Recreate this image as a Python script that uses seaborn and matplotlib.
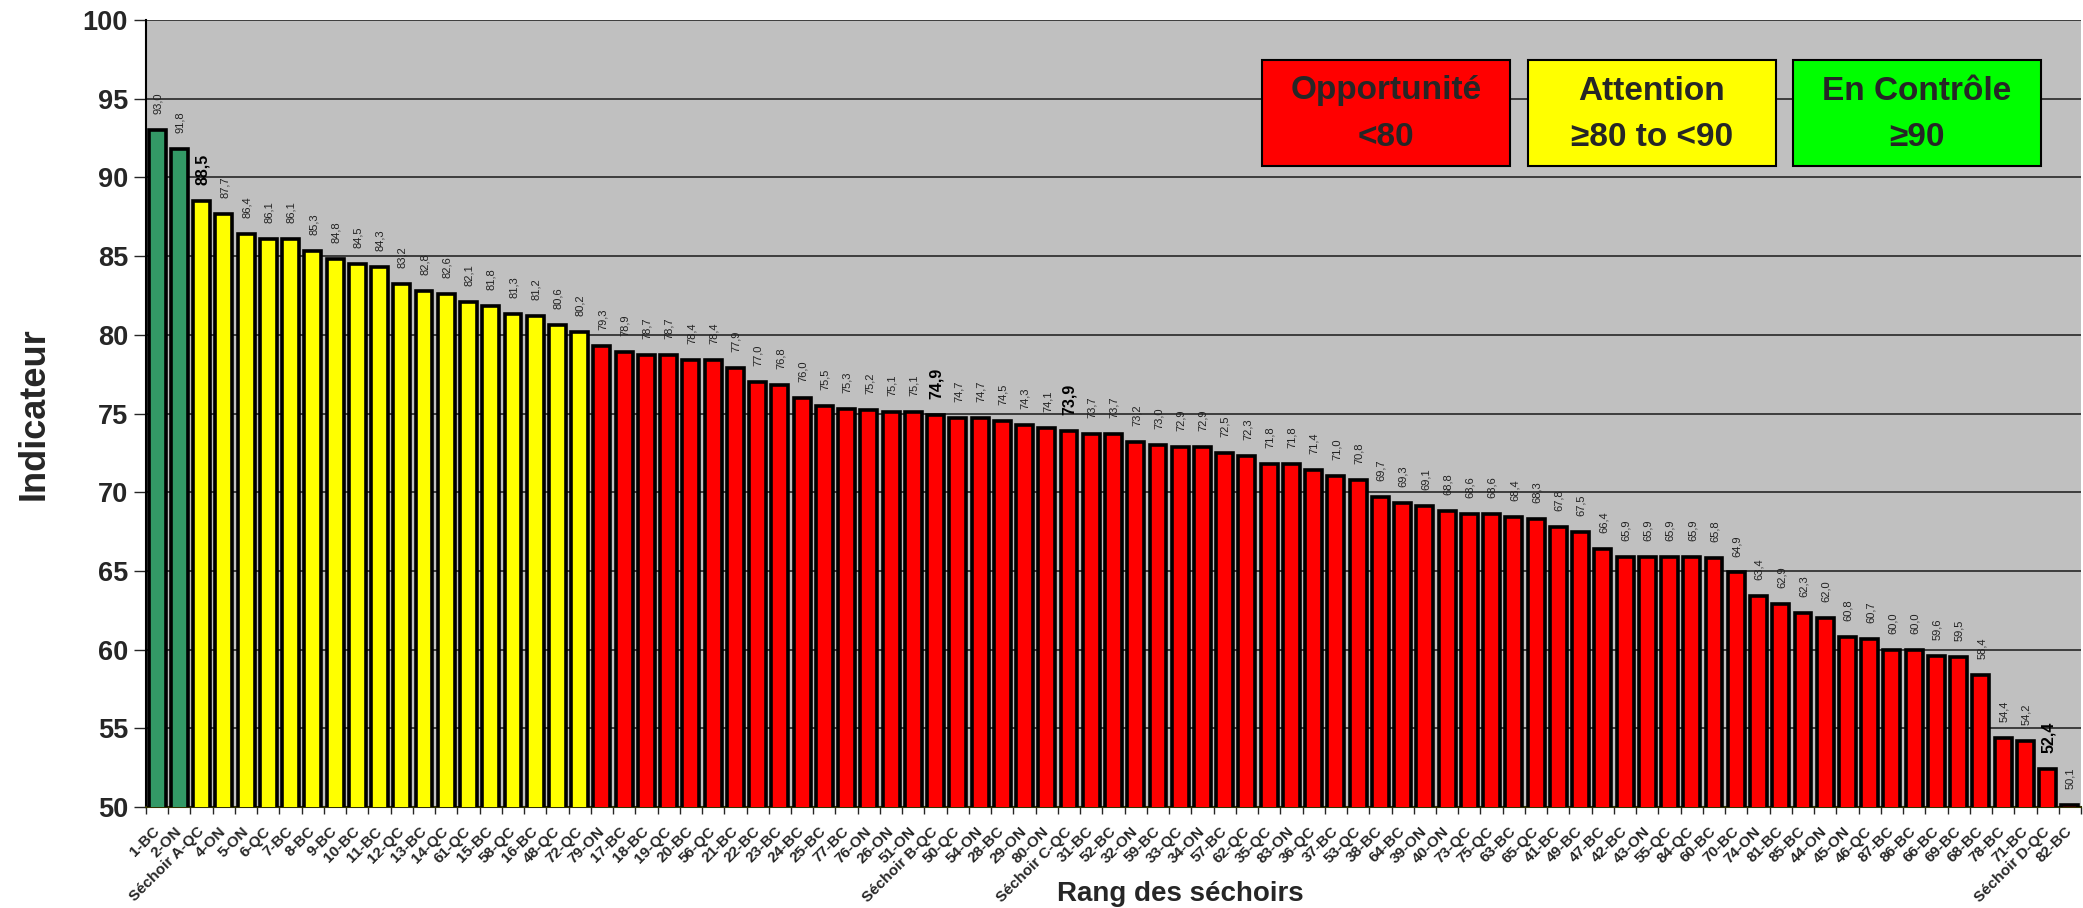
import matplotlib
matplotlib.use("Agg")
import matplotlib.pyplot as plt
from matplotlib.patches import Rectangle
from matplotlib.ticker import MultipleLocator, FixedLocator
import seaborn as sns
import pandas as pd

# Dryer ranking (category labels, left to right)
sechoirs = [
    "1-BC", "2-ON", "Séchoir A-QC", "4-ON", "5-ON", "6-QC", "7-BC", "8-BC", "9-BC", "10-BC",
    "11-BC", "12-QC", "13-BC", "14-QC", "61-QC", "15-BC", "58-QC", "16-BC", "48-QC", "72-QC",
    "79-ON", "17-BC", "18-BC", "19-QC", "20-BC", "56-QC", "21-BC", "22-BC", "23-BC", "24-BC",
    "25-BC", "77-BC", "76-ON", "26-ON", "51-ON", "Séchoir B-QC", "50-QC", "54-ON", "28-BC", "29-ON",
    "80-ON", "Séchoir C-QC", "31-BC", "52-BC", "32-ON", "59-BC", "33-QC", "34-ON", "57-BC", "62-QC",
    "35-QC", "83-ON", "36-QC", "37-BC", "53-QC", "38-BC", "64-BC", "39-ON", "40-ON", "73-QC",
    "75-QC", "63-BC", "65-QC", "41-BC", "49-BC", "47-BC", "42-BC", "43-ON", "55-QC", "84-QC",
    "60-BC", "70-BC", "74-ON", "81-BC", "85-BC", "44-ON", "45-ON", "46-QC", "87-BC", "86-BC",
    "66-BC", "69-BC", "68-BC", "78-BC", "71-BC", "Séchoir D-QC", "82-BC",
]

# Indicator value of each dryer
indicateur = [
    93.0, 91.8, 88.5, 87.7, 86.4, 86.1, 86.1, 85.3, 84.8, 84.5,
    84.3, 83.2, 82.8, 82.6, 82.1, 81.8, 81.3, 81.2, 80.6, 80.2,
    79.3, 78.9, 78.7, 78.7, 78.4, 78.4, 77.9, 77.0, 76.8, 76.0,
    75.5, 75.3, 75.2, 75.1, 75.1, 74.9, 74.7, 74.7, 74.5, 74.3,
    74.1, 73.9, 73.7, 73.7, 73.2, 73.0, 72.9, 72.9, 72.5, 72.3,
    71.8, 71.8, 71.4, 71.0, 70.8, 69.7, 69.3, 69.1, 68.8, 68.6,
    68.6, 68.4, 68.3, 67.8, 67.5, 66.4, 65.9, 65.9, 65.9, 65.9,
    65.8, 64.9, 63.4, 62.9, 62.3, 62.0, 60.8, 60.7, 60.0, 60.0,
    59.6, 59.5, 58.4, 54.4, 54.2, 52.4, 50.1,
]

# Performance bands
legende_titres = ["Opportunité", "Attention", "En Contrôle"]
legende_seuils = ["<80", "≥80 to <90", "≥90"]
legende_couleurs = ["#FF0000", "#FFFF00", "#00FF00"]


def couleur_barre(v):
    if v >= 90:
        return "#339966"
    if v >= 80:
        return "#FFFF00"
    return "#FF0000"


df = pd.DataFrame({"sechoir": sechoirs, "indicateur": indicateur})
palette = {s: couleur_barre(v) for s, v in zip(sechoirs, indicateur)}

sns.set_style("white")
plt.rcParams["font.family"] = ["Liberation Sans", "DejaVu Sans"]

W, H = 2083, 908
fig = plt.figure(figsize=(W / 100, H / 100), dpi=100, facecolor="white")
ax = fig.add_axes([146 / W, 1 - 807 / H, (2081 - 146) / W, (807 - 20) / H])
ax.set_facecolor("#C0C0C0")

sns.barplot(
    data=df, x="sechoir", y="indicateur", hue="sechoir", palette=palette,
    saturation=1, legend=False, width=0.76, edgecolor="black", linewidth=2.6,
    ax=ax, zorder=3,
)

ax.set_ylim(50, 100)
ax.set_xlim(-0.5, len(sechoirs) - 0.5)
ax.yaxis.set_major_locator(MultipleLocator(5))
ax.grid(axis="y", color="#1a1a1a", linewidth=1.1, zorder=0)
ax.grid(axis="x", visible=False)
ax.set_axisbelow(True)

for side in ["top", "right"]:
    ax.spines[side].set_visible(False)
ax.spines["left"].set_color("black")
ax.spines["left"].set_linewidth(1.5)
ax.spines["bottom"].set_color("#333300")
ax.spines["bottom"].set_linewidth(1.5)

# Value labels above each bar
for i, (nom, v) in enumerate(zip(sechoirs, indicateur)):
    texte = f"{v:.1f}".replace(".", ",")
    gras = nom.startswith("Séchoir")
    ax.annotate(
        texte, (i, v), xytext=(0.5, 11.5), textcoords="offset points",
        rotation=90, ha="center", va="bottom",
        fontsize=11.5 if gras else 8,
        fontweight="bold" if gras else "normal",
        color="black" if gras else "#222222", zorder=5,
    )

# Axis ticks and labels
ax.tick_params(axis="y", which="major", length=9, width=1, direction="out",
               labelsize=19.5, pad=4, left=True)
for lab in ax.get_yticklabels():
    lab.set_fontweight("bold")

ax.xaxis.set_minor_locator(FixedLocator([i + 0.5 for i in range(-1, len(sechoirs))]))
ax.tick_params(axis="x", which="minor", length=5, width=1, direction="out", bottom=True)
ax.tick_params(axis="x", which="major", length=0, pad=16)
ax.set_xticks(range(len(sechoirs)))
ax.set_xticklabels(sechoirs, rotation=45, ha="right", va="center",
                   rotation_mode="anchor", fontsize=11, fontweight="bold")

ax.set_xlabel("")
ax.set_ylabel("Indicateur", fontsize=26, fontweight="bold", labelpad=22)
fig.text(1180 / W, 1 - 894 / H, "Rang des séchoirs", ha="center", va="center",
         fontsize=20, fontweight="bold")

# Colour band legend boxes
boites_x = [1262, 1528, 1793]
boite_w, boite_y0, boite_y1 = 248, 60, 166
for x0, titre, seuil, c in zip(boites_x, legende_titres, legende_seuils, legende_couleurs):
    fig.add_artist(Rectangle(
        (x0 / W, 1 - boite_y1 / H), boite_w / W, (boite_y1 - boite_y0) / H,
        transform=fig.transFigure, facecolor=c, edgecolor="black", linewidth=1.5, zorder=10,
    ))
    cx = (x0 + boite_w / 2) / W
    for ty, txt in [(91, titre), (137, seuil)]:
        fig.text(cx, 1 - ty / H, txt, ha="center", va="center", fontsize=24,
                 fontweight="bold", zorder=11)

fig.savefig("out.png", dpi=100, facecolor="white")
